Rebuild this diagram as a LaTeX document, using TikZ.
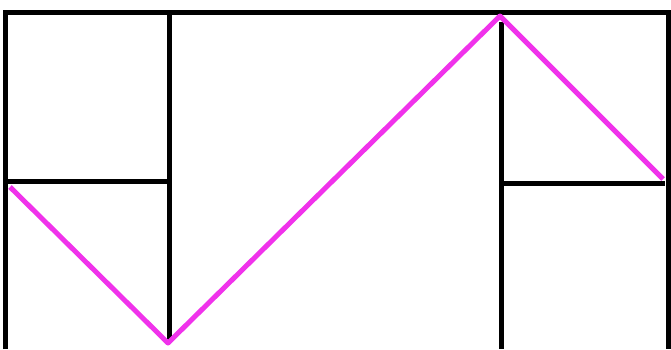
\documentclass[tikz,border=0pt]{standalone}
\definecolor{zig}{RGB}{240,50,235}
\begin{document}
\begin{tikzpicture}[x=1pt,y=-1pt,
  wall/.style={draw=black,line width=5pt},
  zigline/.style={draw=zig,line width=5pt,line join=round}]
\useasboundingbox[fill=white] (0,0) rectangle (671,349);
% frame
\draw[wall] (5.5,349) -- (5.5,12) -- (668,12) -- (668,349);
% left panel
\draw[wall] (169.5,12) -- (169.5,342);
\draw[wall] (5.5,181.5) -- (167,181.5);
% right panel
\draw[wall] (501,22) -- (501,349);
\draw[wall] (501,183.5) -- (665,183.5);
% zigzag
\draw[zigline] (10,187) -- (168,343) -- (500,16) -- (663,179);
\end{tikzpicture}
\end{document}
